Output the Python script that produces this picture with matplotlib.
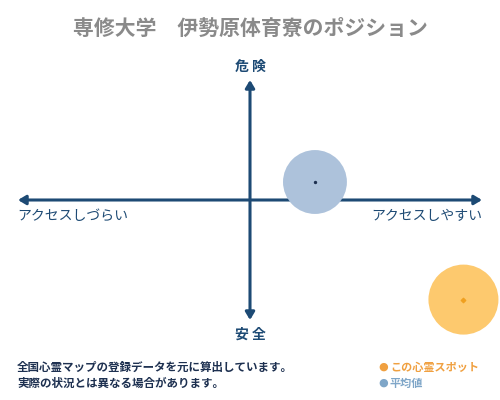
import matplotlib
matplotlib.use("Agg")
import matplotlib.pyplot as plt
from matplotlib.patches import FancyArrowPatch

plt.rcParams['font.family'] = ['Noto Sans CJK JP', 'DejaVu Sans']

title = "専修大学　伊勢原体育寮のポジション"
y_top_label = "危 険"
y_bottom_label = "安 全"
x_left_label = "アクセスしづらい"
x_right_label = "アクセスしやすい"
notes = ["全国心霊マップの登録データを元に算出しています。",
         "実際の状況とは異なる場合があります。"]
legend_labels = ["この心霊スポット", "平均値"]

# positions (x: access ease, y: danger), range -1..1
spot_x, spot_y = [0.92], [-0.83]
avg_x, avg_y = [0.28], [0.15]

W, H = 500, 400
fig = plt.figure(figsize=(5, 4), dpi=100)
ax = fig.add_axes([0, 0, 1, 1])
# center at pixel (250,200); x unit = 232 px, y unit = 120 px
ax.set_xlim(-250 / 232, 250 / 232)
ax.set_ylim(-200 / 120, 200 / 120)
ax.axis('off')

navy = '#1d4a74'
for (a, b) in [((-1, 0), (1, 0)), ((0, -1), (0, 1))]:
    ax.add_patch(FancyArrowPatch(a, b, arrowstyle='<|-|>,head_length=3,head_width=1.8',
                                 color=navy, lw=2.2, shrinkA=0, shrinkB=0,
                                 mutation_scale=1.5))

ax.scatter(avg_x, avg_y, s=2116, color='#adc2db', edgecolors='none', zorder=3)
ax.scatter(avg_x, avg_y, s=2, color='#1d3050', zorder=4)
ax.scatter(spot_x, spot_y, s=2540, color='#fdc96e', edgecolors='none', zorder=3)
ax.scatter(spot_x, spot_y, s=5, color='#f0a020', marker='D', zorder=4)

def px(x, y):
    return x / W, 1 - y / H

fig.text(*px(250, 28), title, ha='center', va='center', fontsize=15,
         color='#8a8a8a', fontweight='bold')
fig.text(*px(250, 67), y_top_label, ha='center', va='center', fontsize=10,
         color=navy, fontweight='bold')
fig.text(*px(250, 335), y_bottom_label, ha='center', va='center', fontsize=10,
         color=navy, fontweight='bold')
fig.text(*px(17, 216), x_left_label, ha='left', va='center', fontsize=10,
         color=navy)
fig.text(*px(482, 216), x_right_label, ha='right', va='center', fontsize=10,
         color=navy)
for i, line in enumerate(notes):
    fig.text(*px(17, 367 + 16 * i), line, ha='left', va='center', fontsize=8.3,
             color='#1d3050', fontweight='bold')

leg_colors = ['#f0a040', '#7fa6c8']
leg_text_colors = ['#f0a040', '#7fa6c8']
for i, (lab, c, tc) in enumerate(zip(legend_labels, leg_colors, leg_text_colors)):
    yy = 367 + 16 * i
    fig.text(*px(383, yy), '●', ha='center', va='center', fontsize=8, color=c,
             family='DejaVu Sans')
    fig.text(*px(390, yy), lab, ha='left', va='center', fontsize=8, color=tc,
             fontweight='bold')

fig.savefig('out.png', dpi=100)
